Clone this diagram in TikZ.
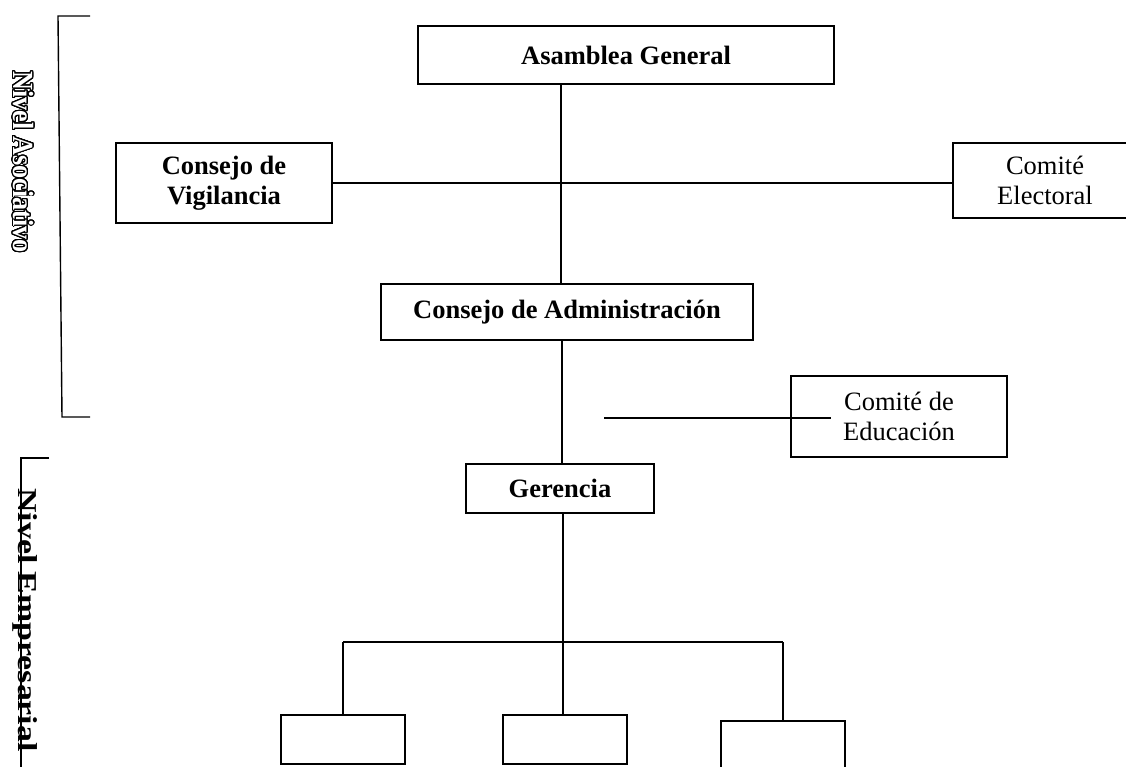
\documentclass[tikz,border=0pt]{standalone}
\usepackage{fontspec}
\setmainfont{Liberation Serif}
\usepackage{contour}
\contourlength{1.0pt}
\contournumber{32}
\newcommand\mysz{\fontsize{26.5}{30}\selectfont}
\tikzset{
  box/.style={draw, line width=1.5pt, inner sep=0pt, align=center, font=\mysz},
  bbox/.style={box, font=\mysz\bfseries},
  conn/.style={line width=1.5pt},
  brk/.style={line width=1.4pt}
}
\begin{document}
\begin{tikzpicture}[x=1pt,y=-1pt]
\useasboundingbox (0,0) rectangle (1126,767);
% boxes
\node[bbox, minimum width=416, minimum height=58] (asam) at (626,55) {Asamblea General};
\node[bbox, minimum width=216, minimum height=80] (vig) at (224,183) {Consejo de\\Vigilancia};
\node[box, minimum width=184, minimum height=75] (elec) at (1045,180.5) {Comité\\Electoral};
\node[bbox, minimum width=372, minimum height=56] (adm) at (567,312) {Consejo de Administración};
\node[box, minimum width=216, minimum height=81] (edu) at (899,416.5) {Comité de\\Educación};
\node[bbox, minimum width=188, minimum height=49] (ger) at (560,488.5) {Gerencia};
\node[box, minimum width=124, minimum height=49] (b1) at (343,739.5) {};
\node[box, minimum width=124, minimum height=49] (b2) at (565,739.5) {};
\node[box, minimum width=124, minimum height=60] (b3) at (783,751) {};
% trunk coordinates
\coordinate (tA) at (561,0);
\coordinate (tB) at (562,0);
\coordinate (tC) at (563,642);
\coordinate (barL) at (343,642);
\coordinate (barR) at (783,642);
\coordinate (eduL) at (604,418);
% connectors
\draw[conn] (asam.south -| tA) -- (adm.north -| tA);
\draw[conn] (vig.east) -- (vig.east -| elec.west);
\draw[conn] (adm.south -| tB) -- (ger.north -| tB);
\draw[conn] (ger.south -| tC) -- (tC);
\draw[conn] (barL) -- (barR);
\draw[conn] (barL) -- (b1.north);
\draw[conn] (tC) -- (b2.north -| tC);
\draw[conn] (barR) -- (b3.north);
\draw[conn] (eduL) -- ([xshift=41pt]edu.west |- eduL);
% brackets
\coordinate (k1a) at (90,16);
\coordinate (k1b) at (58,16);
\coordinate (k1c) at (62,417);
\coordinate (k1d) at (90,417);
\draw[brk] (k1a) -- (k1b) -- (k1c) -- (k1d);
\coordinate (k2a) at (49,458);
\coordinate (k2b) at (21,458);
\coordinate (k2c) at (21,770);
\draw[brk] (k2a) -- (k2b) -- (k2c);
% level labels
\node[rotate=-90, inner sep=0pt] (nasoc) at (23,162)
  {\scalebox{0.97}[1.08]{\fontsize{27}{30}\selectfont\bfseries\textcolor{white}{\contour{black}{Nivel Asociativo}}}};
\node[rotate=-90, inner sep=0pt] (nemp) at (25,620)
  {\scalebox{1.3}[1.05]{\fontsize{26}{30}\selectfont\bfseries Nivel Empresarial}};
\end{tikzpicture}
\end{document}
